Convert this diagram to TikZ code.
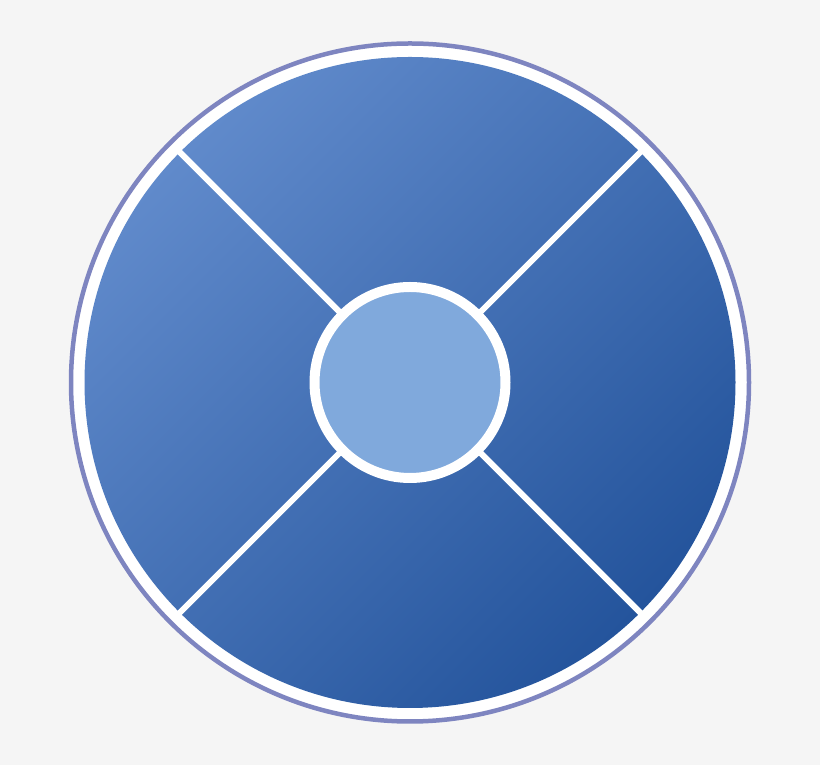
\documentclass[tikz,border=0pt]{standalone}
\begin{document}
\begin{tikzpicture}[x=1pt,y=1pt]
\definecolor{bg}{RGB}{245,245,245}
\definecolor{ringc}{RGB}{126,133,192}
\definecolor{lightb}{RGB}{96,138,203}
\definecolor{darkb}{RGB}{36,84,156}
\definecolor{hubc}{RGB}{128,169,220}
\tikzset{sep/.style={white,line width=6pt}}
\fill[bg] (0,0) rectangle (820,765);
\useasboundingbox (0,0) rectangle (820,765);
\coordinate (c) at (410,382.5);
\draw[ringc,line width=4.5pt,fill=white] (c) circle (339);
\shade[top color=lightb,bottom color=darkb,shading angle=45] (c) circle (325.5);
\foreach \a in {45,135,225,315}{
  \draw[sep] (c) -- ++(\a:330);
}
\draw[white,line width=10pt,fill=hubc] (c) circle (95.5);
\end{tikzpicture}
\end{document}
